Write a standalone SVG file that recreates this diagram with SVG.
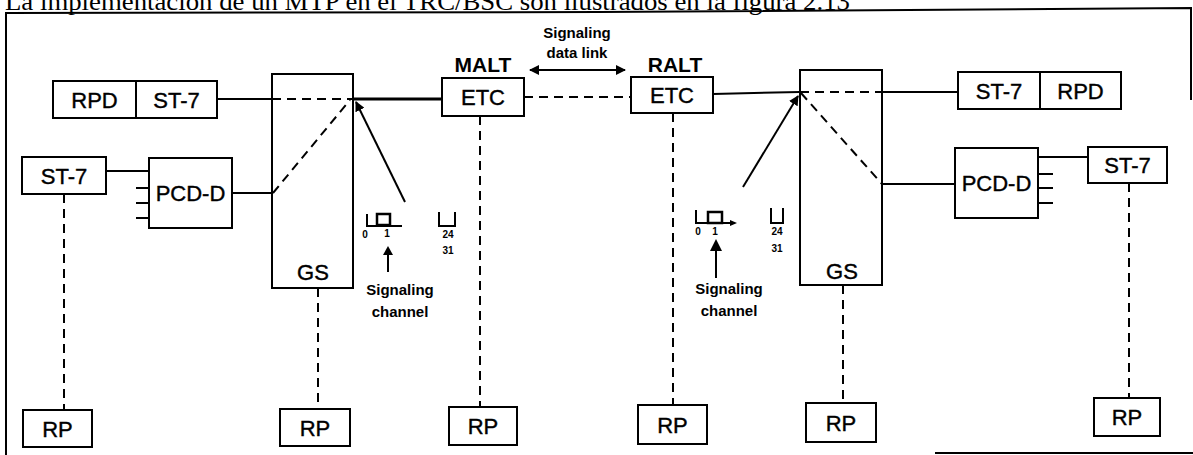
<svg xmlns="http://www.w3.org/2000/svg" width="1193" height="455" viewBox="0 0 1193 455">
<style>
.box{fill:#fff;stroke:#000;stroke-width:2}
.ln{fill:none;stroke:#000;stroke-width:2}
.thick{fill:none;stroke:#000;stroke-width:3}
.dash{fill:none;stroke:#000;stroke-width:2;stroke-dasharray:9 6}
.lbl{font-family:"Liberation Sans",Arial,sans-serif;font-size:22px;text-anchor:middle;fill:#000;stroke:#000;stroke-width:0.4}
.bold{font-family:"Liberation Sans",Arial,sans-serif;font-weight:bold;text-anchor:middle;fill:#000}
.small{font-family:"Liberation Sans",Arial,sans-serif;font-weight:bold;font-size:10px;text-anchor:middle;fill:#000}
</style>
<defs>
<marker id="ah" viewBox="0 0 10 10" refX="9" refY="5" markerWidth="5" markerHeight="5" orient="auto-start-reverse">
<path d="M0,0 L10,5 L0,10 Z" fill="#000"/>
</marker>
</defs>
<rect width="1193" height="455" fill="#fff"/>
<text x="5" y="10" font-family="Liberation Serif,'Times New Roman',serif" font-size="26" textLength="845" lengthAdjust="spacingAndGlyphs">La implementación de un MTP en el TRC/BSC son ilustrados en la figura 2.13</text>
<path class="ln" d="M6,455 V13 L600,12 L1191,8 V100" stroke-width="1.5"/>
<path class="ln" d="M935,453 H1193" stroke-width="3"/>

<g id="connectors">
<path class="ln" d="M217,99 H272"/>
<path class="dash" d="M272,99 H353"/>
<path class="thick" d="M353,99 H442"/>
<path class="ln" d="M106,171 H149"/>
<path class="ln" d="M136,188 H149 M136,203 H149 M136,218 H149"/>
<path class="ln" d="M232,193 H272"/>
<path class="dash" d="M273,193 L350,100"/>
<path class="ln" d="M405,202 L356,102" marker-end="url(#ah)"/>
<path class="ln" d="M530,70 H625" marker-start="url(#ah)" marker-end="url(#ah)" stroke-width="2.5"/>
<path class="dash" d="M524,97 H631"/>
<path class="ln" d="M713,94 L800,92"/>
<path class="dash" d="M800,92 H882"/>
<path class="ln" d="M882,92 H958"/>
<path class="ln" d="M743,187 L798,96" marker-end="url(#ah)"/>
<path class="dash" d="M801,93 L882,184"/>
<path class="ln" d="M882,184 H955"/>
<path class="ln" d="M1038,157 H1088"/>
<path class="ln" d="M1038,174 H1053 M1038,188 H1053 M1038,203 H1053"/>
<path class="dash" d="M64,194 V410"/>
<path class="dash" d="M318,288 V409"/>
<path class="dash" d="M480,116 V407"/>
<path class="dash" d="M673,113 V405"/>
<path class="dash" d="M843,285 V403"/>
<path class="dash" d="M1129,183 V398"/>
</g>

<g id="rpd-st7-left">
<rect class="box" x="53" y="81" width="164" height="37"/>
<path class="ln" d="M136,81 V118"/>
<text class="lbl" x="94.5" y="107.5">RPD</text>
<text class="lbl" x="176.5" y="107.5">ST-7</text>
</g>
<g id="st7-left">
<rect class="box" x="22" y="157" width="84" height="37"/>
<text class="lbl" x="64" y="183.5">ST-7</text>
</g>
<g id="pcdd-left">
<rect class="box" x="149" y="158" width="83" height="70"/>
<text class="lbl" x="190.5" y="201">PCD-D</text>
</g>
<g id="gs-left">
<rect class="box" x="272" y="74" width="81" height="214" style="fill:none"/>
<text class="lbl" x="313" y="280">GS</text>
</g>
<g id="etc-malt">
<rect class="box" x="442" y="78" width="82" height="38"/>
<text class="lbl" x="483" y="105">ETC</text>
<text class="bold" x="483" y="72" font-size="21">MALT</text>
</g>
<g id="signaling-data-link">
<text class="bold" x="577" y="38" font-size="15">Signaling</text>
<text class="bold" x="577" y="58" font-size="15">data link</text>
</g>
<g id="etc-ralt">
<rect class="box" x="631" y="77" width="82" height="36"/>
<text class="lbl" x="672" y="103">ETC</text>
<text class="bold" x="675" y="72" font-size="21">RALT</text>
</g>
<g id="gs-right">
<rect class="box" x="800" y="70" width="82" height="215" style="fill:none"/>
<text class="lbl" x="842" y="279">GS</text>
</g>
<g id="st7-rpd-right">
<rect class="box" x="958" y="72" width="163" height="37"/>
<path class="ln" d="M1040,72 V109"/>
<text class="lbl" x="999" y="98.5">ST-7</text>
<text class="lbl" x="1080.5" y="98.5">RPD</text>
</g>
<g id="pcdd-right">
<rect class="box" x="955" y="148" width="83" height="70"/>
<text class="lbl" x="996.5" y="191">PCD-D</text>
</g>
<g id="st7-right">
<rect class="box" x="1088" y="147" width="79" height="36"/>
<text class="lbl" x="1127.5" y="173">ST-7</text>
</g>

<g id="sig-channel-left">
<path class="ln" d="M367,214 V226 H402"/>
<rect x="377" y="214" width="13" height="11" fill="#fff" stroke="#000" stroke-width="2.5"/>
<path class="ln" d="M439,212 V226 H455 V212"/>
<text class="small" x="365" y="238">0</text>
<text class="small" x="387" y="237">1</text>
<text class="small" x="448" y="238">24</text>
<text class="small" x="448" y="254">31</text>
<path d="M388,246 L393,255 L383,255 Z" fill="#000"/>
<path class="ln" d="M388,255 V272" stroke-width="1.2"/>
<text class="bold" x="400" y="295" font-size="15">Signaling</text>
<text class="bold" x="400" y="317" font-size="15">channel</text>
</g>
<g id="sig-channel-right">
<path class="ln" d="M696,210 V223 H732"/>
<path d="M737,223 L730,220 L730,226 Z" fill="#000"/>
<rect x="708" y="212" width="14" height="11" fill="#fff" stroke="#000" stroke-width="2.5"/>
<path class="ln" d="M771,208 V223 H783 V208"/>
<text class="small" x="698" y="235">0</text>
<text class="small" x="715" y="235">1</text>
<text class="small" x="777" y="235">24</text>
<text class="small" x="777" y="252">31</text>
<path d="M716,239 L722,251 L710,251 Z" fill="#000"/>
<path class="ln" d="M716,251 V278" stroke-width="1.5"/>
<text class="bold" x="729" y="294" font-size="15">Signaling</text>
<text class="bold" x="729" y="316" font-size="15">channel</text>
</g>

<g id="rp1"><rect class="box" x="23" y="410" width="69" height="37"/><text class="lbl" x="57.5" y="436.5">RP</text></g>
<g id="rp2"><rect class="box" x="280" y="409" width="70" height="37"/><text class="lbl" x="315" y="435.5">RP</text></g>
<g id="rp3"><rect class="box" x="449" y="407" width="68" height="38"/><text class="lbl" x="483" y="434">RP</text></g>
<g id="rp4"><rect class="box" x="638" y="405" width="69" height="39"/><text class="lbl" x="672.5" y="432.5">RP</text></g>
<g id="rp5"><rect class="box" x="806" y="403" width="70" height="39"/><text class="lbl" x="841" y="430.5">RP</text></g>
<g id="rp6"><rect class="box" x="1094" y="398" width="66" height="38"/><text class="lbl" x="1127" y="425">RP</text></g>
</svg>
